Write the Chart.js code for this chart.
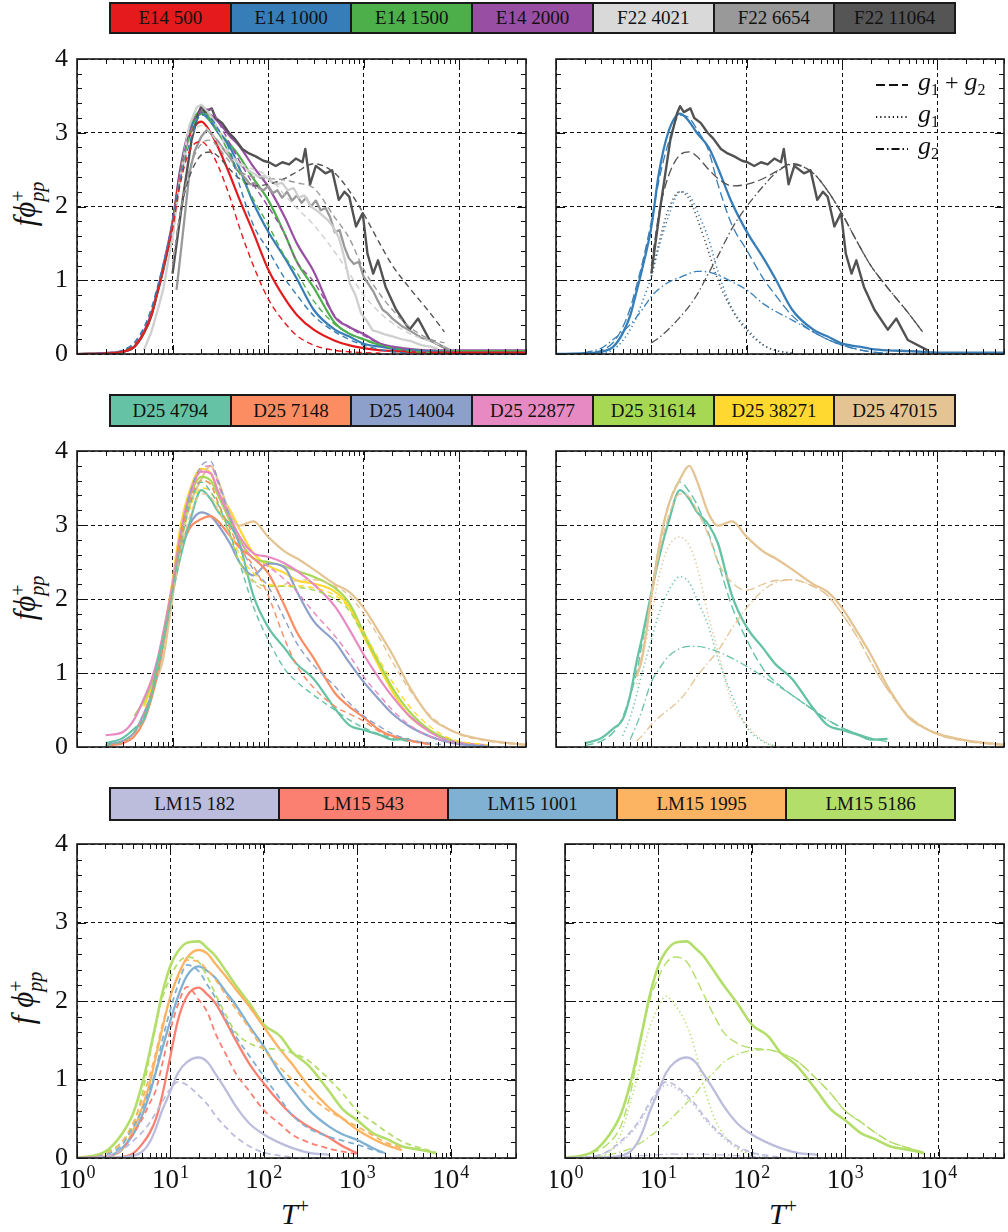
<!DOCTYPE html>
<html>
<head>
<meta charset="utf-8">
<script src="https://cdn.jsdelivr.net/npm/chart.js@4/dist/chart.umd.min.js"></script>
<style>
  body { margin: 0; background: #fff; width: 1008px; height: 1232px; position: relative; overflow: hidden;
         font-family: "Liberation Serif", "DejaVu Serif", serif; color: #111; }
  .legend { position: absolute; left: 109px; width: 847px; display: flex; border: 2px solid #1a1a1a; box-sizing: border-box; }
  .legend div { flex: 1; text-align: center; font-size: 19px; border-right: 2px solid #1a1a1a; }
  .legend div:last-child { border-right: none; }
  .ylab { position: absolute; transform: translate(-50%, -50%) rotate(-90deg); white-space: nowrap; font-size: 31px; }
  .ss { display: inline-block; vertical-align: -0.45em; line-height: 0.95; font-size: 20px; text-align: left; }
  .xlab { position: absolute; transform: translate(-50%, -50%); white-space: nowrap; font-size: 30px; }
  .xlab sup { font-size: 20px; }
  canvas { position: absolute; }
</style>
</head>
<body>

<div class="legend" style="top:2px;height:32px;line-height:28px">
  <div style="background:#e41a1c">E14 500</div><div style="background:#377eb8">E14 1000</div>
  <div style="background:#4daf4a">E14 1500</div><div style="background:#984ea3">E14 2000</div>
  <div style="background:#d9d9d9">F22 4021</div><div style="background:#999999">F22 6654</div>
  <div style="background:#555555">F22 11064</div>
</div>
<div class="legend" style="top:394px;height:33px;line-height:29px">
  <div style="background:#66c2a5">D25 4794</div><div style="background:#fc8d62">D25 7148</div>
  <div style="background:#8da0cb">D25 14004</div><div style="background:#e78ac3">D25 22877</div>
  <div style="background:#a6d854">D25 31614</div><div style="background:#ffd92f">D25 38271</div>
  <div style="background:#e5c494">D25 47015</div>
</div>
<div class="legend" style="top:787px;height:34px;line-height:30px">
  <div style="background:#bcbddc">LM15 182</div><div style="background:#fb8072">LM15 543</div>
  <div style="background:#80b1d3">LM15 1001</div><div style="background:#fdb462">LM15 1995</div>
  <div style="background:#b3de69">LM15 5186</div>
</div>

<div class="ylab" style="left:27px;top:204px"><i>f</i><i>ϕ</i><span class="ss">+<br><i>pp</i></span></div>
<div class="ylab" style="left:27px;top:598px"><i>f</i><i>ϕ</i><span class="ss">+<br><i>pp</i></span></div>
<div class="ylab" style="left:25px;top:998px"><i>f</i>&nbsp;<i>ϕ</i><span class="ss">+<br><i>pp</i></span></div>
<div class="xlab" style="left:295px;top:1213px"><i>T</i><sup>+</sup></div>
<div class="xlab" style="left:783px;top:1213px"><i>T</i><sup>+</sup></div>

<script>
const _ = null;

// T+ sample positions shared by most curves
const tPlus = [1, 2, 3, 4, 5, 6, 7, 8, 10, 12, 15, 20, 25, 30, 40, 50, 70, 100, 150, 200, 300, 500, 700, 1000, 1500, 2000, 3000, 5000, 7000, 10000, 20000, 50000];

// ---- E14 / F22 (top row) ----
const e14_500     = [0, 0.01, 0.03, 0.1, 0.28, 0.52, 0.85, 1.15, 1.75, 2.45, 2.95, 3.15, 3.0, 2.8, 2.42, 2.1, 1.65, 1.15, 0.75, 0.53, 0.33, 0.18, 0.12, 0.08, 0.05, 0.04, 0.03, 0.02, 0.02, 0.02, 0.02, 0.02];
const e14_500fit  = [0, 0.01, 0.04, 0.12, 0.3, 0.55, 0.85, 1.15, 1.7, 2.3, 2.75, 2.88, 2.75, 2.55, 2.12, 1.72, 1.2, 0.75, 0.42, 0.25, 0.12, 0.05, 0.03, 0.02, 0.01, _, _, _, _, _, _, _];
const e14_1000    = [0, 0.01, 0.03, 0.1, 0.28, 0.52, 0.85, 1.15, 1.72, 2.45, 3.0, 3.26, 3.15, 3.0, 2.8, 2.52, 2.05, 1.66, 1.3, 1.02, 0.6, 0.33, 0.24, 0.14, 0.1, 0.07, 0.05, 0.04, 0.03, 0.02, 0.02, 0.02];
const e14_1000fit = [0, 0.01, 0.05, 0.16, 0.36, 0.62, 0.93, 1.22, 1.8, 2.35, 2.85, 3.24, 3.2, 3.05, 2.75, 2.3, 1.75, 1.41, 1.02, 0.8, 0.52, 0.3, 0.2, 0.12, 0.06, 0.03, 0.01, _, _, _, _, _];
const e14_1000g1  = [_, 0, 0.01, 0.06, 0.18, 0.33, 0.5, 0.7, 1.05, 1.45, 1.85, 2.2, 2.15, 1.95, 1.55, 1.12, 0.62, 0.35, 0.12, 0.05, 0.01, _, _, _, _, _, _, _, _, _, _, _];
const e14_1000g2  = [_, 0.02, 0.08, 0.2, 0.3, 0.4, 0.5, 0.6, 0.78, 0.88, 0.97, 1.04, 1.09, 1.12, 1.11, 1.07, 0.98, 0.87, 0.68, 0.58, 0.46, 0.3, 0.2, 0.12, 0.06, 0.03, 0.01, _, _, _, _, _];
const e14_1500    = [0, 0.01, 0.03, 0.1, 0.28, 0.52, 0.85, 1.15, 1.75, 2.45, 3.02, 3.3, 3.18, 3.02, 2.84, 2.68, 2.38, 2.09, 1.62, 1.25, 0.9, 0.42, 0.28, 0.2, 0.12, 0.08, 0.05, 0.04, 0.04, 0.04, 0.04, 0.04];
const e14_1500fit = [0, 0.01, 0.04, 0.12, 0.3, 0.55, 0.85, 1.15, 1.72, 2.4, 2.95, 3.25, 3.15, 3.0, 2.7, 2.45, 2.1, 1.75, 1.32, 1.1, 0.72, 0.4, 0.28, 0.19, 0.12, 0.08, 0.04, 0.02, _, _, _, _];
const e14_2000    = [0, 0.01, 0.03, 0.1, 0.3, 0.55, 0.88, 1.2, 1.8, 2.5, 3.05, 3.28, 3.24, 3.15, 2.95, 2.82, 2.54, 2.27, 1.85, 1.5, 1.12, 0.5, 0.37, 0.27, 0.14, 0.1, 0.07, 0.05, 0.05, 0.05, 0.05, 0.05];
const e14_2000fit = [0, 0.02, 0.05, 0.14, 0.33, 0.58, 0.9, 1.2, 1.8, 2.45, 3.0, 3.3, 3.32, 3.15, 2.85, 2.62, 2.3, 2.0, 1.62, 1.25, 0.98, 0.52, 0.36, 0.25, 0.14, 0.09, 0.05, 0.03, _, _, _, _];
// F22 data are noisy, so they keep their own T+ samples
const t4021       = [5, 6, 7, 8, 10, 12, 15, 18, 20, 23, 26, 30, 35, 40, 46, 52, 60, 70, 80, 92, 105, 120, 140, 160, 185, 210, 240, 280, 320, 370, 420, 480, 550, 630, 720, 820, 940, 1080, 1240, 1420, 1630, 2000, 2500, 3200, 4000, 5000, 6000];
const f22_4021    = [0.05, 0.3, 0.6, 0.88, 1.6, 2.4, 3.1, 3.35, 3.38, 3.3, 3.2, 3.05, 2.85, 2.7, 2.62, 2.55, 2.5, 2.45, 2.4, 2.42, 2.35, 2.3, 2.32, 2.22, 2.25, 2.12, 2.15, 2.0, 1.95, 1.88, 1.82, 1.72, 1.58, 1.3, 0.95, 0.8, 0.55, 0.45, 0.32, 0.3, 0.27, 0.24, 0.2, 0.17, 0.12, 0.1, 0.07];
const f22_4021fit = [_, _, _, _, _, _, _, _, 1.5, 2.3, 2.9, 3.1, 3.0, 2.85, 2.7, 2.6, 2.5, 2.42, 2.15, 1.98, 1.75, 1.38, 1.1, 0.8, 0.55, 0.42, 0.28, 0.17, 0.1, _, _, _];
const t6654       = [11, 12, 13.5, 15, 17, 20, 23, 25, 28, 30, 34, 38, 42, 47, 52, 58, 65, 72, 80, 90, 100, 112, 125, 140, 158, 178, 200, 224, 250, 280, 316, 355, 400, 447, 500, 560, 630, 700, 790, 890, 1000, 1120, 1260, 1410, 1580, 1780, 2000, 2500, 3200, 4000, 5000, 6300, 8000];
const f22_6654    = [0.87, 1.3, 1.9, 2.45, 2.75, 2.95, 3.04, 3.0, 2.92, 2.88, 2.78, 2.7, 2.62, 2.5, 2.45, 2.38, 2.3, 2.32, 2.25, 2.22, 2.28, 2.18, 2.22, 2.12, 2.2, 2.08, 2.15, 2.05, 2.12, 2.0, 2.08, 1.95, 1.98, 1.85, 1.65, 1.68, 1.45, 1.3, 1.22, 1.25, 1.05, 0.95, 0.85, 0.72, 0.6, 0.55, 0.48, 0.38, 0.3, 0.22, 0.18, 0.12, 0.05];
const f22_6654fit = [_, _, _, _, _, _, _, _, 1.2, 1.9, 2.5, 2.85, 2.9, 2.8, 2.6, 2.48, 2.4, 2.38, 2.36, 2.32, 2.25, 1.85, 1.58, 1.15, 0.8, 0.6, 0.37, 0.2, 0.15, _, _, _];
const t11064      = [10, 12.3, 15.8, 18.6, 20, 21.9, 25.7, 28.2, 33.1, 38.9, 44.7, 53.7, 63.1, 74.1, 89.1, 102, 120, 141, 166, 195, 229, 245, 275, 316, 339, 398, 468, 550, 631, 708, 832, 977, 1096, 1259, 1413, 1698, 2188, 3020, 3715, 4898, 7943];
const f22_11064   = [1.09, 1.95, 2.9, 3.26, 3.36, 3.28, 3.33, 3.2, 3.13, 3.0, 2.92, 2.78, 2.72, 2.68, 2.62, 2.6, 2.55, 2.6, 2.57, 2.65, 2.6, 2.78, 2.3, 2.55, 2.52, 2.45, 2.49, 2.09, 2.2, 2.13, 1.73, 1.91, 1.36, 1.09, 1.27, 0.91, 0.6, 0.33, 0.48, 0.19, 0.05];
const f22_11064fit = [_, _, _, _, _, _, _, _, 1.2, 1.9, 2.4, 2.7, 2.74, 2.68, 2.5, 2.38, 2.28, 2.3, 2.38, 2.47, 2.58, 2.45, 2.22, 1.9, 1.48, 1.2, 0.9, 0.55, 0.3, _, _, _];
const f22_11064g1 = [_, _, _, _, _, _, _, _, 1.05, 1.5, 1.95, 2.2, 2.1, 1.85, 1.38, 1.0, 0.6, 0.32, 0.12, 0.05, 0.01, _, _, _, _, _, _, _, _, _, _, _];
const f22_11064g2 = [_, _, _, _, _, _, _, _, 0.15, 0.22, 0.33, 0.5, 0.65, 0.8, 1.1, 1.33, 1.7, 2.0, 2.28, 2.45, 2.57, 2.45, 2.22, 1.9, 1.48, 1.2, 0.9, 0.55, 0.3, _, _, _];

// ---- D25 (middle row) ----
const d25_4794     = [_, 0.05, 0.12, 0.25, 0.37, 0.7, 1.15, 1.48, 2.08, 2.55, 3.02, 3.47, 3.35, 3.18, 3.0, 2.75, 2.05, 1.62, 1.33, 1.12, 0.92, 0.52, 0.3, 0.23, 0.16, 0.1, 0.11, _, _, _, _, _];
const d25_4794fit  = [_, 0.02, 0.08, 0.2, 0.4, 0.7, 1.0, 1.4, 2.1, 2.7, 3.25, 3.58, 3.45, 3.28, 2.88, 2.5, 1.9, 1.45, 1.05, 0.88, 0.7, 0.5, 0.37, 0.26, 0.17, 0.12, 0.07, _, _, _, _, _];
const d25_4794g1   = [_, _, _, _, 0.15, 0.4, 0.7, 1.0, 1.45, 1.8, 2.1, 2.3, 2.22, 2.0, 1.62, 1.2, 0.7, 0.27, 0.07, 0.01, _, _, _, _, _, _, _, _, _, _, _, _];
const d25_4794g2   = [_, _, _, _, _, 0.1, 0.3, 0.5, 0.88, 1.05, 1.22, 1.33, 1.36, 1.36, 1.33, 1.29, 1.2, 1.09, 0.95, 0.85, 0.7, 0.5, 0.37, 0.26, 0.17, 0.12, 0.07, _, _, _, _, _];
const d25_7148     = [_, 0.02, 0.05, 0.15, 0.35, 0.65, 1.0, 1.4, 2.1, 2.6, 2.95, 3.08, 3.12, 3.05, 2.85, 2.7, 2.55, 2.35, 1.9, 1.55, 1.2, 0.73, 0.55, 0.4, 0.22, 0.15, 0.09, 0.04, _, _, _, _];
const d25_7148fit  = [_, 0.02, 0.07, 0.2, 0.42, 0.72, 1.05, 1.45, 2.15, 2.8, 3.3, 3.6, 3.55, 3.3, 2.95, 2.7, 2.45, 2.05, 1.45, 1.1, 0.8, 0.55, 0.45, 0.35, 0.2, 0.14, 0.08, 0.03, _, _, _, _];
const d25_14004    = [_, 0.03, 0.08, 0.2, 0.45, 0.7, 1.0, 1.4, 2.1, 2.65, 3.0, 3.17, 3.12, 3.0, 2.75, 2.5, 2.32, 2.48, 2.42, 2.1, 1.7, 1.42, 1.15, 0.88, 0.62, 0.45, 0.28, 0.14, 0.08, 0.04, 0.01, _];
const d25_14004fit = [_, 0.02, 0.07, 0.2, 0.42, 0.72, 1.05, 1.45, 2.15, 2.8, 3.4, 3.8, 3.86, 3.6, 3.1, 2.75, 2.4, 2.17, 1.72, 1.4, 1.1, 0.82, 0.6, 0.42, 0.27, 0.18, 0.1, 0.05, 0.03, _, _, _];
const d25_22877    = [_, 0.16, 0.2, 0.38, 0.65, 0.9, 1.2, 1.55, 2.2, 2.85, 3.4, 3.72, 3.7, 3.45, 3.1, 2.85, 2.62, 2.57, 2.48, 2.38, 2.2, 1.9, 1.6, 1.25, 0.9, 0.68, 0.42, 0.2, 0.11, 0.06, 0.02, _];
const d25_22877fit = [_, 0.02, 0.07, 0.2, 0.45, 0.75, 1.05, 1.45, 2.15, 2.8, 3.35, 3.75, 3.8, 3.55, 3.1, 2.8, 2.55, 2.44, 2.26, 2.1, 1.82, 1.5, 1.25, 0.95, 0.68, 0.5, 0.3, 0.14, 0.08, 0.04, _, _];
const d25_31614    = [_, _, _, 0.42, 0.62, 0.85, 1.1, 1.45, 2.15, 2.8, 3.35, 3.65, 3.6, 3.4, 3.05, 2.8, 2.55, 2.5, 2.44, 2.38, 2.3, 2.15, 1.95, 1.55, 1.1, 0.8, 0.48, 0.22, 0.12, 0.06, 0.02, _];
const d25_31614fit = [_, 0.02, 0.07, 0.2, 0.42, 0.72, 1.05, 1.45, 2.15, 2.8, 3.3, 3.6, 3.55, 3.3, 2.85, 2.5, 2.25, 2.17, 2.17, 2.16, 2.12, 2.0, 1.85, 1.5, 1.1, 0.8, 0.48, 0.22, 0.12, 0.06, _, _];
const d25_38271    = [_, _, _, _, 0.55, 0.8, 1.1, 1.5, 2.25, 2.95, 3.45, 3.76, 3.7, 3.45, 3.2, 2.95, 2.62, 2.45, 2.35, 2.25, 2.21, 2.1, 1.9, 1.5, 1.05, 0.75, 0.42, 0.21, 0.12, 0.06, 0.02, _];
const d25_38271fit = [_, 0.02, 0.07, 0.2, 0.42, 0.72, 1.05, 1.45, 2.1, 2.7, 3.2, 3.5, 3.45, 3.25, 2.9, 2.6, 2.35, 2.2, 2.18, 2.18, 2.15, 2.05, 1.88, 1.55, 1.15, 0.88, 0.55, 0.27, 0.15, 0.08, 0.03, _];
const d25_47015    = [_, _, _, _, _, _, 0.95, 1.2, 2.03, 2.7, 3.25, 3.62, 3.8, 3.6, 3.15, 2.99, 3.05, 2.84, 2.64, 2.55, 2.4, 2.2, 2.1, 1.88, 1.52, 1.25, 0.82, 0.4, 0.27, 0.18, 0.09, 0.03];
const d25_47015fit = [_, _, _, _, _, _, 0.95, 1.25, 2.0, 2.6, 3.1, 3.42, 3.38, 3.2, 2.85, 2.5, 2.22, 2.12, 2.2, 2.25, 2.26, 2.17, 2.05, 1.8, 1.45, 1.15, 0.78, 0.42, 0.28, 0.17, 0.08, 0.02];
const d25_47015g1  = [_, _, _, _, _, _, 0.85, 1.2, 1.75, 2.3, 2.7, 2.84, 2.72, 2.45, 1.75, 1.3, 0.6, 0.3, 0.08, 0.01, _, _, _, _, _, _, _, _, _, _, _, _];
const d25_47015g2  = [_, _, _, _, _, _, 0.08, 0.15, 0.3, 0.4, 0.5, 0.64, 0.8, 0.95, 1.15, 1.3, 1.6, 1.88, 2.12, 2.22, 2.26, 2.17, 2.05, 1.8, 1.45, 1.15, 0.78, 0.42, 0.28, 0.17, 0.08, 0.02];

// ---- LM15 (bottom row) ----
const lm_182     = [0, 0, 0.01, 0.03, 0.08, 0.2, 0.38, 0.58, 0.85, 1.08, 1.22, 1.28, 1.22, 1.08, 0.85, 0.66, 0.44, 0.3, 0.19, 0.13, 0.07, 0.04, _, _, _, _, _, _, _, _, _, _];
const lm_182fit  = [0, 0.02, 0.1, 0.22, 0.33, 0.45, 0.58, 0.7, 0.88, 0.97, 0.93, 0.8, 0.68, 0.55, 0.38, 0.27, 0.15, 0.07, 0.03, 0.01, _, _, _, _, _, _, _, _, _, _, _, _];
const lm_182g1   = [0, 0.02, 0.09, 0.2, 0.31, 0.42, 0.55, 0.67, 0.85, 0.93, 0.9, 0.77, 0.65, 0.52, 0.36, 0.25, 0.13, 0.06, 0.02, _, _, _, _, _, _, _, _, _, _, _, _, _];
const lm_182g2   = [_, 0, 0.01, 0.02, 0.02, 0.03, 0.03, 0.04, 0.04, 0.05, 0.05, 0.05, 0.05, 0.05, 0.04, 0.04, 0.03, 0.02, 0.01, _, _, _, _, _, _, _, _, _, _, _, _, _];
const lm_543     = [0, 0, 0.01, 0.06, 0.18, 0.32, 0.5, 0.75, 1.3, 1.75, 2.06, 2.17, 2.08, 1.98, 1.72, 1.5, 1.2, 0.95, 0.7, 0.55, 0.4, 0.26, 0.15, 0.06, _, _, _, _, _, _, _, _];
const lm_543fit  = [0, 0.02, 0.1, 0.31, 0.5, 0.7, 0.87, 1.15, 1.63, 1.95, 2.18, 2.02, 1.85, 1.6, 1.3, 1.08, 0.85, 0.61, 0.43, 0.3, 0.2, 0.12, 0.08, 0.05, _, _, _, _, _, _, _, _];
const lm_1001    = [0, 0.01, 0.12, 0.3, 0.55, 0.82, 1.1, 1.35, 1.75, 2.05, 2.32, 2.44, 2.38, 2.3, 2.1, 1.95, 1.68, 1.42, 1.08, 0.88, 0.62, 0.4, 0.3, 0.23, 0.12, 0.06, _, _, _, _, _, _];
const lm_1001fit = [0, 0.04, 0.16, 0.4, 0.62, 0.88, 1.12, 1.45, 1.89, 2.2, 2.46, 2.38, 2.2, 2.05, 1.75, 1.55, 1.3, 1.04, 0.75, 0.55, 0.38, 0.27, 0.22, 0.17, 0.1, 0.06, _, _, _, _, _, _];
const lm_1995    = [0, 0.02, 0.1, 0.35, 0.65, 0.95, 1.3, 1.6, 2.06, 2.32, 2.55, 2.65, 2.6, 2.48, 2.3, 2.15, 1.93, 1.67, 1.38, 1.2, 0.92, 0.64, 0.5, 0.36, 0.24, 0.17, 0.1, _, _, _, _, _];
const lm_1995fit = [0, 0.05, 0.2, 0.45, 0.75, 1.05, 1.35, 1.65, 2.05, 2.3, 2.52, 2.5, 2.39, 2.28, 2.06, 1.9, 1.65, 1.38, 1.15, 1.0, 0.8, 0.6, 0.5, 0.4, 0.28, 0.2, 0.13, _, _, _, _, _];
const lm_5186    = [0, 0.08, 0.3, 0.57, 0.95, 1.35, 1.72, 2.05, 2.45, 2.63, 2.74, 2.76, 2.67, 2.58, 2.37, 2.2, 1.97, 1.7, 1.55, 1.35, 1.18, 0.85, 0.62, 0.48, 0.31, 0.25, 0.15, 0.1, 0.06, _, _, _];
const lm_5186fit = [0, 0.07, 0.2, 0.42, 0.82, 1.3, 1.7, 2.0, 2.3, 2.48, 2.56, 2.5, 2.3, 2.1, 1.8, 1.6, 1.46, 1.4, 1.38, 1.34, 1.24, 1.0, 0.82, 0.6, 0.45, 0.34, 0.21, 0.12, 0.07, _, _, _];
const lm_5186g1  = [_, 0, 0.08, 0.32, 0.7, 1.05, 1.4, 1.65, 1.93, 2.06, 1.95, 1.7, 1.35, 0.95, 0.5, 0.3, 0.12, 0.03, _, _, _, _, _, _, _, _, _, _, _, _, _, _];
const lm_5186g2  = [_, 0.01, 0.04, 0.08, 0.12, 0.17, 0.22, 0.27, 0.36, 0.44, 0.55, 0.7, 0.82, 0.95, 1.1, 1.22, 1.32, 1.37, 1.38, 1.34, 1.24, 1.0, 0.82, 0.6, 0.45, 0.34, 0.21, 0.12, 0.07, _, _, _];

const DASH = [6, 4], LDASH = [9, 4], DOT = [1.2, 3], DASHDOT = [8, 3, 1.5, 3];

function pts(t, v) {
  const out = [];
  v.forEach((y, i) => { if (y !== null) out.push({ x: t[i], y: y }); });
  return out;
}
function ds(v, color, dash, width, t, straight) {
  return {
    data: pts(t || tPlus, v), borderColor: color, borderWidth: width,
    borderDash: dash || [], pointRadius: 0, fill: false,
    cubicInterpolationMode: straight ? 'default' : 'monotone', tension: 0,
    borderCapStyle: 'butt', borderJoinStyle: 'round'
  };
}

// inward ticks, frame, x labels, fit legend
const frameTicks = {
  id: 'frameTicks',
  afterDatasetsDraw(chart, args, opts) {
    const { ctx, chartArea: a } = chart;
    const x = chart.scales.x, y = chart.scales.y;
    ctx.save();
    ctx.strokeStyle = '#111';
    ctx.lineWidth = 1;
    ctx.setLineDash([]);
    ctx.beginPath();
    for (let e = 0; e <= 4; e++) {
      for (let k = 1; k <= 9; k++) {
        const v = k * Math.pow(10, e);
        if (v > x.max) break;
        const px = Math.round(x.getPixelForValue(v)) + 0.5;
        const len = k === 1 ? 9 : 5;
        ctx.moveTo(px, a.top); ctx.lineTo(px, a.top + len);
        ctx.moveTo(px, a.bottom); ctx.lineTo(px, a.bottom - len);
      }
    }
    for (let i = 0; i <= 20; i++) {
      const py = Math.round(y.getPixelForValue(i * 0.2)) + 0.5;
      const len = i % 5 === 0 ? 9 : 5;
      ctx.moveTo(a.left, py); ctx.lineTo(a.left + len, py);
      ctx.moveTo(a.right, py); ctx.lineTo(a.right - len, py);
    }
    ctx.stroke();
    ctx.lineWidth = 1.6;
    ctx.strokeStyle = '#1a1a1a';
    ctx.strokeRect(a.left, a.top, a.right - a.left, a.bottom - a.top);

    ctx.fillStyle = '#111';
    ctx.textBaseline = 'alphabetic';
    ctx.textAlign = 'left';
    if (opts.xLabels) {
      for (let e = 0; e <= 4; e++) {
        const px = x.getPixelForValue(Math.pow(10, e));
        ctx.font = '27px "Liberation Serif"';
        const w1 = ctx.measureText('10').width;
        ctx.font = '18px "Liberation Serif"';
        const w2 = ctx.measureText(String(e)).width;
        const x0 = px - (w1 + w2 + 1) / 2;
        ctx.font = '27px "Liberation Serif"';
        ctx.fillText('10', x0, a.bottom + 30);
        ctx.font = '18px "Liberation Serif"';
        ctx.fillText(String(e), x0 + w1 + 1, a.bottom + 20);
      }
    }
    if (opts.fitLegend) {
      const rows = [[LDASH, [['g', '1'], [' + '], ['g', '2']]], [DOT, [['g', '1']]], [DASHDOT, [['g', '2']]]];
      rows.forEach((r, i) => {
        const ly = a.top + 26 + i * 32;
        ctx.strokeStyle = '#111';
        ctx.lineWidth = 2;
        ctx.setLineDash(r[0]);
        ctx.beginPath(); ctx.moveTo(a.right - 128, ly); ctx.lineTo(a.right - 96, ly); ctx.stroke();
        ctx.setLineDash([]);
        let tx = a.right - 86;
        r[1].forEach(part => {
          if (part.length === 2) {
            ctx.font = 'italic 26px "Liberation Serif"';
            ctx.fillText(part[0], tx, ly + 5);
            tx += ctx.measureText(part[0]).width;
            ctx.font = '16px "Liberation Serif"';
            ctx.fillText(part[1], tx, ly + 10);
            tx += ctx.measureText(part[1]).width;
          } else {
            ctx.font = '24px "Liberation Serif"';
            ctx.fillText(part[0], tx, ly + 5);
            tx += ctx.measureText(part[0]).width;
          }
        });
      });
    }
    ctx.restore();
  }
};

function panel(rect, datasets, opt) {
  const ML = opt.yLabels ? 60 : 14, MB = opt.xLabels ? 60 : 14, MT = 14, MR = 14;
  const W = rect.r - rect.l + ML + MR, H = rect.b - rect.t + MT + MB;
  const cv = document.createElement('canvas');
  cv.width = W; cv.height = H;
  cv.style.left = (rect.l - ML) + 'px';
  cv.style.top = (rect.t - MT) + 'px';
  cv.style.width = W + 'px';
  cv.style.height = H + 'px';
  document.body.appendChild(cv);
  const gridOpts = { color: '#111', lineWidth: 1, drawTicks: false };
  new Chart(cv, {
    type: 'line',
    data: { datasets: datasets },
    plugins: [frameTicks],
    options: {
      responsive: false, animation: false, devicePixelRatio: 1,
      layout: { padding: { top: MT, right: MR, left: 0, bottom: 0 } },
      plugins: { legend: { display: false }, tooltip: { enabled: false },
                 frameTicks: { xLabels: !!opt.xLabels, fitLegend: !!opt.fitLegend } },
      scales: {
        x: {
          type: 'logarithmic', min: 1, max: 50000, bounds: 'data',
          afterBuildTicks: s => { s.ticks = [1, 10, 100, 1000, 10000].map(v => ({ value: v })); },
          afterFit: s => { s.height = MB; s.paddingLeft = 0; s.paddingRight = 0; },
          ticks: { display: false },
          grid: gridOpts,
          border: { display: false, dash: [4, 3] }
        },
        y: {
          min: 0, max: 4,
          afterBuildTicks: s => { s.ticks = [0, 1, 2, 3, 4].map(v => ({ value: v })); },
          afterFit: s => { s.width = ML; s.paddingTop = 0; s.paddingBottom = 0; },
          ticks: { display: !!opt.yLabels, color: '#111', padding: 9,
                   font: { family: 'Liberation Serif', size: 26 } },
          grid: gridOpts,
          border: { display: false, dash: [4, 3] }
        }
      }
    }
  });
}

const C = {
  e500: '#e41a1c', e1000: '#377eb8', e1500: '#4daf4a', e2000: '#984ea3',
  f4021: '#cfcfcf', f6654: '#999999', f11064: '#525252',
  d4794: '#66c2a5', d7148: '#fc8d62', d14004: '#8da0cb', d22877: '#e78ac3',
  d31614: '#a6d854', d38271: '#ffd92f', d47015: '#e5c494',
  l182: '#bcbddc', l543: '#fb8072', l1001: '#80b1d3', l1995: '#fdb462', l5186: '#b3de69'
};

// top row
panel({ l: 77, t: 59, r: 526, b: 354 }, [
  ds(e14_500fit, C.e500, DASH, 1.4), ds(e14_1000fit, C.e1000, DASH, 1.4),
  ds(e14_1500fit, C.e1500, DASH, 1.4), ds(e14_2000fit, C.e2000, DASH, 1.4),
  ds(f22_4021fit, C.f4021, DASH, 1.4), ds(f22_6654fit, C.f6654, DASH, 1.4),
  ds(f22_11064fit, C.f11064, DASH, 1.4),
  ds(f22_4021, C.f4021, [], 2.3, t4021, true), ds(f22_6654, C.f6654, [], 2.3, t6654, true),
  ds(f22_11064, C.f11064, [], 2.4, t11064, true),
  ds(e14_500, C.e500, [], 2.2), ds(e14_1000, C.e1000, [], 2.2),
  ds(e14_1500, C.e1500, [], 2.2), ds(e14_2000, C.e2000, [], 2.2)
], { yLabels: true });

panel({ l: 556, t: 59, r: 1004, b: 354 }, [
  ds(f22_11064fit, C.f11064, LDASH, 1.3), ds(f22_11064g1, C.f11064, DOT, 1.6),
  ds(f22_11064g2, C.f11064, DASHDOT, 1.3), ds(f22_11064, C.f11064, [], 2.4, t11064, true),
  ds(e14_1000fit, C.e1000, LDASH, 1.3), ds(e14_1000g1, C.e1000, DOT, 1.6),
  ds(e14_1000g2, C.e1000, DASHDOT, 1.3), ds(e14_1000, C.e1000, [], 2.3)
], { fitLegend: true });

// middle row
panel({ l: 77, t: 451, r: 526, b: 747 }, [
  ds(d25_4794fit, C.d4794, DASH, 1.4), ds(d25_7148fit, C.d7148, DASH, 1.4),
  ds(d25_14004fit, C.d14004, DASH, 1.4), ds(d25_22877fit, C.d22877, DASH, 1.4),
  ds(d25_31614fit, C.d31614, DASH, 1.4), ds(d25_38271fit, C.d38271, DASH, 1.4),
  ds(d25_47015fit, C.d47015, DASH, 1.4),
  ds(d25_4794, C.d4794, [], 2.2), ds(d25_7148, C.d7148, [], 2.2),
  ds(d25_14004, C.d14004, [], 2.2), ds(d25_22877, C.d22877, [], 2.2),
  ds(d25_31614, C.d31614, [], 2.2), ds(d25_47015, C.d47015, [], 2.2),
  ds(d25_38271, C.d38271, [], 2.2)
], { yLabels: true });

panel({ l: 556, t: 451, r: 1004, b: 747 }, [
  ds(d25_47015fit, C.d47015, LDASH, 1.4), ds(d25_47015g1, C.d47015, DOT, 1.6),
  ds(d25_47015g2, C.d47015, DASHDOT, 1.3), ds(d25_47015, C.d47015, [], 2.3),
  ds(d25_4794fit, C.d4794, LDASH, 1.4), ds(d25_4794g1, C.d4794, DOT, 1.6),
  ds(d25_4794g2, C.d4794, DASHDOT, 1.3), ds(d25_4794, C.d4794, [], 2.3)
], {});

// bottom row
panel({ l: 77, t: 844, r: 516, b: 1158 }, [
  ds(lm_182fit, C.l182, DASH, 1.8), ds(lm_543fit, C.l543, DASH, 1.8),
  ds(lm_1001fit, C.l1001, DASH, 1.8), ds(lm_1995fit, C.l1995, DASH, 1.8),
  ds(lm_5186fit, C.l5186, DASH, 1.8),
  ds(lm_182, C.l182, [], 2.3), ds(lm_543, C.l543, [], 2.3), ds(lm_1001, C.l1001, [], 2.3),
  ds(lm_1995, C.l1995, [], 2.3), ds(lm_5186, C.l5186, [], 2.6)
], { yLabels: true, xLabels: true });

panel({ l: 565, t: 844, r: 1004, b: 1158 }, [
  ds(lm_182fit, C.l182, DASH, 1.6), ds(lm_182g1, C.l182, DOT, 1.8),
  ds(lm_182g2, C.l182, DASHDOT, 1.3), ds(lm_182, C.l182, [], 2.3),
  ds(lm_5186fit, C.l5186, LDASH, 1.4), ds(lm_5186g1, C.l5186, DOT, 1.6),
  ds(lm_5186g2, C.l5186, DASHDOT, 1.3), ds(lm_5186, C.l5186, [], 2.6)
], { xLabels: true });
</script>
</body>
</html>
